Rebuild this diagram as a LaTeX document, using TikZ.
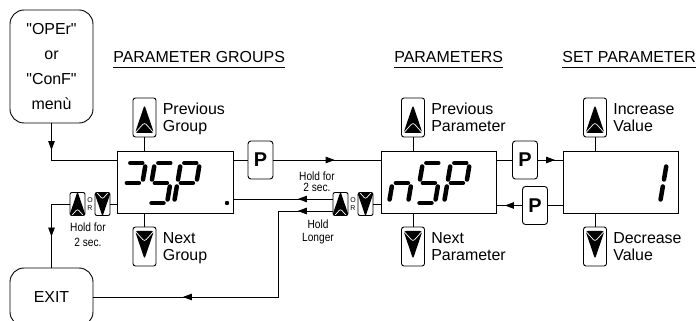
\documentclass[tikz,border=0pt]{standalone}
\usepackage{fontspec}
\setmainfont{Liberation Sans}
\newfontfamily\menufont{Liberation Sans}
\newfontfamily\narrowfont[FakeStretch=0.85]{Liberation Sans}
\usetikzlibrary{arrows.meta,decorations.markings}

% button glyphs, drawn inside the key nodes
\newcommand{\upglyph}[1]{%
  \begin{scope}[shift={(path picture bounding box.center)},scale=#1]
    \fill (0bp,12.5bp) -- (9.5bp,-15.5bp) -- (-9.5bp,-15.5bp) -- cycle;
    \draw[white,line width=0.7bp] (-8.5bp,-14.5bp) -- (0bp,-5bp) -- (8.5bp,-14.5bp);
  \end{scope}}
\newcommand{\downglyph}[1]{%
  \begin{scope}[shift={(path picture bounding box.center)},scale=#1]
    \fill (0bp,-12.5bp) -- (9.5bp,15.5bp) -- (-9.5bp,15.5bp) -- cycle;
    \draw[white,line width=0.7bp] (-8.5bp,14.5bp) -- (0bp,5bp) -- (8.5bp,14.5bp);
  \end{scope}}
% one seven segment character, origin at its lower left corner
\newcommand{\segdigit}[3]{%
  \begin{scope}[shift={(#1,#2)},xslant=0.17]
    \foreach \sg in {#3} {\draw[segment,seg \sg];}
  \end{scope}}

\tikzset{
  seg a/.style={insert path={(3.5bp,40bp) -- (15.5bp,40bp)}},
  seg b/.style={insert path={(19bp,36.5bp) -- (19bp,23.5bp)}},
  seg c/.style={insert path={(19bp,16.5bp) -- (19bp,3.5bp)}},
  seg d/.style={insert path={(3.5bp,0bp) -- (15.5bp,0bp)}},
  seg e/.style={insert path={(0bp,16.5bp) -- (0bp,3.5bp)}},
  seg f/.style={insert path={(0bp,36.5bp) -- (0bp,23.5bp)}},
  seg g/.style={insert path={(3.5bp,20bp) -- (15.5bp,20bp)}},
  segment/.style={line width=4.5bp,line cap=round},
  lbl/.style={font=\fontsize{16}{17}\selectfont,align=left,inner sep=0pt,anchor=north west},
  hdr/.style={font=\fontsize{16}{18}\selectfont,inner sep=0pt,anchor=base west},
  smalltxt/.style={font=\narrowfont\fontsize{12}{#1}\selectfont,align=center,inner sep=0pt},
  ortxt/.style={font=\fontsize{7}{8.5}\selectfont,align=center,inner sep=0pt},
  menubox/.style={draw,line width=0.9bp,rounded corners=14bp,minimum width=83bp,minimum height=113bp,
    align=center,font=\menufont\fontsize{16}{25}\selectfont},
  exitbox/.style={draw,line width=0.9bp,rounded corners=14bp,minimum width=83bp,minimum height=58bp,
    font=\fontsize{16}{18}\selectfont},
  dispbox/.style={draw,line width=0.9bp,minimum width=115.5bp,minimum height=62bp,inner sep=0pt},
  pbtn/.style={draw,line width=0.9bp,rounded corners=3bp,minimum width=25bp,minimum height=38bp,
    inner sep=0pt,font=\fontsize{20}{20}\selectfont\bfseries},
  upbtn/.style={draw,line width=0.9bp,rounded corners=2.5bp,minimum width=23bp,minimum height=39bp,
    inner sep=0pt,path picture={\upglyph{1}}},
  downbtn/.style={draw,line width=0.9bp,rounded corners=2.5bp,minimum width=23bp,minimum height=39bp,
    inner sep=0pt,path picture={\downglyph{1}}},
  smallup/.style={draw,line width=0.9bp,rounded corners=2bp,minimum width=15bp,minimum height=23bp,
    inner sep=0pt,path picture={\upglyph{0.6}}},
  smalldown/.style={draw,line width=0.9bp,rounded corners=2bp,minimum width=15bp,minimum height=23bp,
    inner sep=0pt,path picture={\downglyph{0.6}}},
  arrowat/.style={postaction={decorate},decoration={markings,
    mark=at position #1 with {\arrow{Triangle[length=9bp,width=6.5bp]}}}},
  arrowtwo/.style 2 args={postaction={decorate},decoration={markings,
    mark=at position #1 with {\arrow{Triangle[length=9bp,width=6.5bp]}},
    mark=at position #2 with {\arrow{Triangle[length=9bp,width=6.5bp]}}}},
}

\begin{document}
\begin{tikzpicture}[line width=0.8bp]
  \useasboundingbox (0bp,0bp) rectangle (698bp,321bp);
  \clip (0bp,0bp) rectangle (698bp,321bp);
  %%
  \node (menu) at (51.5bp,254.5bp) [menubox] {"OPEr"\\or\\"ConF"\\menù};
  \node (exit) at (51.5bp,24bp) [exitbox] {EXIT};
  \node (hgrp) at (113bp,258bp) [hdr] {PARAMETER GROUPS};
  \node (hpar) at (394bp,258bp) [hdr] {PARAMETERS};
  \node (hset) at (562bp,258bp) [hdr] {SET PARAMETER};
  \draw ([yshift=-4bp]hgrp.base west) -- ([yshift=-4bp]hgrp.base east);
  \draw ([yshift=-4bp]hpar.base west) -- ([yshift=-4bp]hpar.base east);
  \draw ([yshift=-4bp]hset.base west) -- ([yshift=-4bp]hset.base east);
  %
  \node (grpdisp) at (175.5bp,139bp) [dispbox] {};
  \node (pardisp) at (439bp,139bp) [dispbox] {};
  \node (valdisp) at (621bp,139bp) [dispbox] {};
  \segdigit{120bp}{118bp}{a,b,g}
  \segdigit{148bp}{118bp}{a,f,g,c,d}
  \segdigit{174bp}{118bp}{a,b,f,g,e}
  \fill (227bp,118bp) circle (2.2bp);
  \segdigit{389bp}{118bp}{e,g,c}
  \segdigit{416bp}{118bp}{a,f,g,c,d}
  \segdigit{444bp}{118bp}{a,b,f,g,e}
  \segdigit{641bp}{118bp}{b,c}
  %
  \node (grpup) at (144.5bp,203.5bp) [upbtn] {};
  \node (grpdown) at (144.5bp,74.5bp) [downbtn] {};
  \node (parup) at (413bp,203.5bp) [upbtn] {};
  \node (pardown) at (413bp,74.5bp) [downbtn] {};
  \node (valup) at (595bp,203.5bp) [upbtn] {};
  \node (valdown) at (595bp,74.5bp) [downbtn] {};
  \node (grpprev) at ([xshift=6bp,yshift=14.5bp]grpup.east) [lbl] {Previous\\Group};
  \node (grpnext) at ([xshift=6bp,yshift=14.5bp]grpdown.east) [lbl] {Next\\Group};
  \node (parprev) at ([xshift=6bp,yshift=14.5bp]parup.east) [lbl] {Previous\\Parameter};
  \node (parnext) at ([xshift=6bp,yshift=14.5bp]pardown.east) [lbl] {Next\\Parameter};
  \node (valinc) at ([xshift=6bp,yshift=14.5bp]valup.east) [lbl] {Increase\\Value};
  \node (valdec) at ([xshift=6bp,yshift=14.5bp]valdown.east) [lbl] {Decrease\\Value};
  %
  \node (penter) at (260.5bp,161bp) [pbtn] {P};
  \node (pset) at (525bp,161bp) [pbtn] {P};
  \node (pback) at (535bp,115.5bp) [pbtn] {P};
  \node (exitup) at (77.5bp,117bp) [smallup] {};
  \node (exitor) at (90bp,117bp) [ortxt] {O\\R};
  \node (exitdown) at (102.5bp,117bp) [smalldown] {};
  \node (backup) at (340.5bp,117bp) [smallup] {};
  \node (backor) at (353bp,117bp) [ortxt] {O\\R};
  \node (backdown) at (365.5bp,117bp) [smalldown] {};
  \node (exithold) at (88bp,86.5bp) [smalltxt=15] {Hold for\\2 sec.};
  \node (backhold) at (317bp,139.5bp) [smalltxt=11.5] {Hold for\\2 sec.};
  \node (longhold) at (318bp,89.5bp) [smalltxt=13] {Hold\\Longer};
  %
  \coordinate (menucorner) at (51.5bp,161bp);
  \coordinate (exitcorner) at (51.5bp,117bp);
  \coordinate (longcorner) at (278bp,110bp);
  \draw [arrowat=0.26] (menu.south) -- (menucorner) -- (grpdisp.west |- menucorner);
  \draw (grpup.south) -- (grpup.south |- grpdisp.north);
  \draw (grpdown.north) -- (grpdown.north |- grpdisp.south);
  \draw (parup.south) -- (parup.south |- pardisp.north);
  \draw (pardown.north) -- (pardown.north |- pardisp.south);
  \draw (valup.south) -- (valup.south |- valdisp.north);
  \draw (valdown.north) -- (valdown.north |- valdisp.south);
  \draw (grpdisp.east |- penter) -- (penter.west);
  \draw [arrowat=0.57] (penter.east) -- (pardisp.west |- penter);
  \draw (pardisp.east |- pset) -- (pset.west);
  \draw [arrowat=0.69] (pset.east) -- (valdisp.west |- pset);
  \draw (valdisp.west |- pback) -- (pback.east);
  \draw [arrowat=0.69] (pback.west) -- (pardisp.east |- pback);
  \draw (exitdown.east) -- (grpdisp.west |- exitdown);
  \draw [arrowat=0.62] (exitup.west) -- (exitcorner) -- (exit.north);
  \draw (backdown.east) -- (pardisp.west |- backdown);
  \draw [arrowat=0.35] ([yshift=5bp]backup.west) -- ([yshift=5bp]backup.west -| grpdisp.east);
  \draw [arrowtwo={0.107}{0.725}] ([yshift=-7bp]backup.west) -- (longcorner) |- (exit.east);
  %
\end{tikzpicture}
\end{document}
